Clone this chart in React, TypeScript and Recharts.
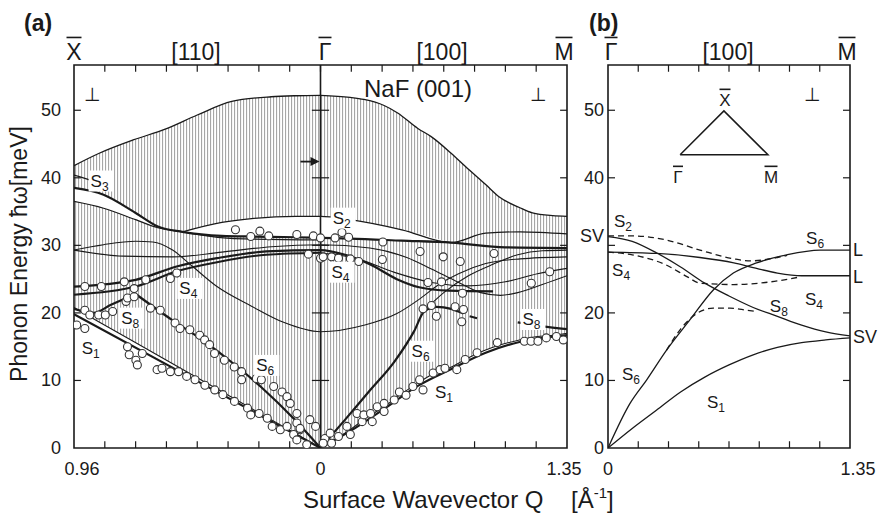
import React from "react"
import {
  Area,
  ComposedChart,
  Line,
  ReferenceArea,
  ReferenceDot,
  ReferenceLine,
  Scatter,
  XAxis,
  YAxis,
} from "recharts"

const FONT = '"Liberation Sans", Arial, Helvetica, sans-serif'
const INK = "#1a1a1a"
const YMAX = 56.7

// reduced wavevector: -1 = X̄ (0.96 Å⁻¹ along [110]), 0 = Γ̄, +1 = M̄ (1.35 Å⁻¹ along [100])
const xTicksA = [-1, -0.875, -0.75, -0.625, -0.5, -0.375, -0.25, -0.125, 0, 0.125, 0.25, 0.375, 0.5, 0.625, 0.75, 0.875, 1]
const xTicksB = [0, 0.125, 0.25, 0.375, 0.5, 0.625, 0.75, 0.875, 1]
const yTicks = [0, 10, 20, 30, 40, 50]
const xLabelsA: Record<string, string> = { "-1": "0.96", "0": "0", "1": "1.35" }
const xLabelsB: Record<string, string> = { "0": "0", "1": "1.35" }
const yLabelsB: Record<string, string> = { "28.2": "L", "31.4": "SV" }
const yTicksB = [0, 10, 20, 28.2, 31.4, 40, 50]

// bulk band [t, low, high]
const bulkLeft = [
  [-1, 20.8, 41.8], [-0.9, 18.7, 43.6], [-0.76, 15.8, 45.6], [-0.63, 13.1, 47.2],
  [-0.5, 10.4, 49.3], [-0.36, 7.5, 51.3], [-0.2, 4.2, 52.0], [-0.1, 2.1, 52.15], [0, 0, 52.2],
]
const bulkRight = [
  [0, 0, 52.2], [0.12, 2.7, 51.9], [0.176, 4.2, 51.6], [0.258, 6.1, 50.7], [0.313, 7.6, 49.6],
  [0.395, 9.6, 47.3], [0.449, 10.8, 46.1], [0.531, 12.0, 43.6], [0.587, 13.1, 41.7],
  [0.67, 14.5, 39.0], [0.724, 15.2, 37.2], [0.807, 16.0, 35.6], [0.86, 16.4, 34.8],
  [0.942, 16.7, 34.4], [1, 17.0, 34.3],
]
// gaps inside the band
const gapNearX = [[-1, 36.5, 38.5], [-0.88, 35.5, 37.5], [-0.75, 33.8, 34.8], [-0.66, 32.6, 32.8], [-0.56, 32.0, 32.0]]
const gapNearG = [
  [-0.56, 32.0, 32.0], [-0.4, 31.4, 33.4], [-0.27, 31.3, 34.0], [-0.1, 31.2, 34.3], [0, 31.1, 34.3],
  [0.12, 31.0, 33.8], [0.33, 30.7, 32.3], [0.53, 30.4, 30.4],
]

// panel (a) dispersion curves [t, E meV]
const c31 = [
  [-1, 38.5], [-0.88, 37.5], [-0.75, 34.8], [-0.66, 32.8], [-0.56, 32.0], [-0.4, 31.4], [-0.27, 31.3],
  [-0.1, 31.2], [0, 31.1], [0.12, 31.0], [0.33, 30.7], [0.53, 30.4], [0.75, 29.7], [1, 29.6],
]
const c31b = [[-1, 36.5], [-0.88, 35.5], [-0.75, 33.8], [-0.66, 32.6], [-0.56, 32.0], [-0.35, 31.0], [0, 30.8]]
const s2a = [
  [-0.56, 32.0], [-0.4, 33.4], [-0.27, 34.0], [-0.1, 34.3], [0, 34.3], [0.12, 33.8], [0.33, 32.3],
  [0.53, 30.4], [0.67, 31.8], [0.81, 32.0], [1, 31.7],
]
const s3a = [[-1, 40.4], [-0.93, 39.6], [-0.85, 38.3]]
const c7 = [
  [-1, 29.3], [-0.88, 30.1], [-0.75, 30.6], [-0.68, 30.5], [-0.6, 29.3], [-0.52, 26.9], [-0.42, 23.9],
  [-0.28, 21.0], [-0.15, 18.6], [0, 17.2], [0.18, 18.2], [0.31, 19.9], [0.4, 22.0], [0.48, 24.2],
  [0.56, 25.8], [0.67, 27.3], [0.81, 28.0], [1, 28.3],
]
const c8 = [
  [-1, 29.3], [-0.8, 28.4], [-0.6, 28.3], [-0.4, 29.0], [-0.2, 29.8], [0, 30.1], [0.2, 29.6],
  [0.35, 28.2], [0.45, 26.5], [0.55, 24.7], [0.65, 23.0], [0.73, 22.6], [0.8, 23.0], [0.9, 24.2], [1, 25.5],
]
const s4a = [
  [-1, 23.9], [-0.75, 24.9], [-0.58, 26.9], [-0.42, 28.1], [-0.22, 29.1], [0, 29.3], [0.1, 28.6],
  [0.2, 27.2], [0.31, 25.0], [0.4, 23.8], [0.52, 23.3], [0.7, 23.2],
]
const s4b = [[-1, 22.7], [-0.75, 23.9], [-0.58, 26.2], [-0.42, 27.5], [-0.22, 28.6], [0, 28.9]]
const c9 = [[0, 28.9], [0.15, 28.0], [0.3, 26.0], [0.45, 24.5], [0.6, 24.0], [0.75, 24.6], [0.88, 25.8], [1, 26.6]]
const s6L = [[-0.75, 22.8], [-0.6, 18.9], [-0.48, 16.0], [-0.35, 12.4], [-0.24, 9.0], [-0.11, 4.4], [0, 0]]
const s8L = [[-1, 20.6], [-0.92, 20.0], [-0.85, 21.2], [-0.75, 22.8]]
const s1L = [[-1, 19.8], [-0.5, 9.9], [0, 0]]
const s1R = [[0, 0], [0.12, 2.5], [0.258, 5.8], [0.395, 9.2], [0.531, 11.7], [0.67, 14.1], [0.807, 15.7], [0.942, 16.5], [1, 16.7]]
const s6R = [[0, 0], [0.1, 4.2], [0.2, 8.5], [0.3, 12.8], [0.38, 17.3], [0.42, 20.2], [0.47, 20.9], [0.53, 20.6], [0.58, 19.9]]
const s6Rdash = [[0.605, 19.5], [0.635, 19.2]]
const s6Rthin = [[0.42, 20.3], [0.5, 23.0], [0.6, 25.5], [0.7, 27.2], [0.8, 28.6], [0.9, 29.2], [1, 29.3]]
const s8R = [[0.8, 18.6], [0.9, 18.0], [1, 17.6]]

// measured points (open circles)
const measured = [
  // S1, [110]
  [-0.989, 18.2], [-0.956, 17.7], [-0.783, 15.0], [-0.776, 13.8], [-0.749, 13.0], [-0.743, 12.3],
  [-0.723, 14.0], [-0.663, 11.6], [-0.643, 11.8], [-0.609, 11.3], [-0.576, 11.3], [-0.543, 10.6],
  [-0.509, 10.1], [-0.469, 9.3], [-0.429, 8.6], [-0.396, 7.9], [-0.349, 6.9], [-0.296, 5.9],
  [-0.283, 4.9], [-0.249, 5.1], [-0.216, 4.4], [-0.196, 3.2], [-0.163, 2.7], [-0.136, 3.2],
  [-0.109, 2.0], [-0.096, 1.2], [-0.083, 2.7], [-0.056, 0.5],
  // S6, [110]
  [-0.789, 21.7], [-0.69, 20.7], [-0.65, 20.4], [-0.59, 18.5], [-0.57, 17.7], [-0.53, 17.5],
  [-0.49, 16.7], [-0.47, 16.0], [-0.45, 15.3], [-0.43, 14.0], [-0.39, 13.0], [-0.35, 12.0],
  [-0.32, 11.3], [-0.32, 10.1], [-0.26, 10.3], [-0.24, 10.1], [-0.19, 9.1], [-0.156, 8.3],
  [-0.136, 7.6], [-0.123, 6.6], [-0.096, 5.1], [-0.096, 3.7], [-0.083, 2.9], [-0.043, 4.2], [-0.02, 3.2],
  // S8, S4, [110]
  [-0.956, 20.4], [-0.936, 19.7], [-0.9, 19.7], [-0.873, 19.7], [-0.843, 20.2], [-0.783, 22.2], [-0.756, 22.4],
  [-0.956, 23.9], [-0.889, 23.9], [-0.796, 24.6], [-0.756, 23.6], [-0.709, 24.9], [-0.609, 25.1], [-0.583, 25.9],
  // upper modes
  [-0.345, 32.3], [-0.283, 31.3], [-0.246, 32.1], [-0.21, 31.4], [-0.096, 31.6], [-0.029, 31.4],
  [0.0, 31.1], [-0.049, 28.7], [0.0, 28.1], [0.059, 31.1], [0.087, 31.9], [0.114, 31.2],
  [0.253, 30.5], [0.404, 29.1], [0.498, 28.3], [0.567, 27.6], [0.704, 28.8], [0.93, 26.1], [0.855, 24.4],
  [0.011, 28.3], [0.045, 28.3], [0.073, 28.1], [0.121, 28.0], [0.155, 27.6], [0.251, 27.9],
  [0.436, 24.5], [0.491, 24.6], [0.576, 22.9],
  // S6, [100]
  [0.416, 20.6], [0.45, 21.1], [0.47, 19.5], [0.546, 20.9], [0.58, 20.5], [0.573, 18.7],
  // S1, [100]
  [0.018, 1.4], [0.039, 2.2], [0.011, 0.7], [0.045, 0.7], [0.073, 1.7], [0.107, 3.2], [0.121, 2.0],
  [0.148, 5.1], [0.169, 3.9], [0.176, 4.9], [0.21, 3.9], [0.203, 5.1], [0.23, 6.1], [0.258, 5.4],
  [0.258, 6.6], [0.299, 7.1], [0.32, 8.3], [0.347, 7.8], [0.375, 9.1], [0.402, 10.1], [0.416, 8.6],
  [0.457, 11.1], [0.485, 11.6], [0.505, 11.8], [0.553, 11.6], [0.587, 13.1], [0.635, 14.1],
  [0.717, 15.6], [0.827, 15.8], [0.854, 15.8], [0.882, 15.8], [0.916, 16.3], [0.957, 16.5], [0.985, 16.0],
]

// panel (b) calculated curves, Γ̄ -> M̄
const bS2S8 = [[0, 31.3], [0.1, 30.6], [0.2, 28.9], [0.3, 26.8], [0.4, 24.4], [0.5, 22.5], [0.6, 20.8], [0.7, 19.5], [0.8, 18.2], [0.9, 17.2], [1, 16.6]]
const bS2dash = [[0, 31.4], [0.1, 31.4], [0.24, 30.8], [0.38, 29.3], [0.52, 28.0], [0.59, 27.7], [0.7, 28.2], [0.74, 28.5]]
const bL = [[0, 29.0], [0.2, 28.8], [0.38, 28.2], [0.52, 27.4], [0.6, 26.7], [0.7, 25.9], [0.8, 25.5], [1, 25.5]]
const bS4dash = [[0, 29.0], [0.1, 28.6], [0.24, 27.1], [0.33, 25.3], [0.38, 24.4], [0.52, 24.2], [0.65, 24.5], [0.79, 25.3]]
const bS6 = [[0, 0], [0.091, 6.6], [0.16, 10.1], [0.242, 14.5], [0.339, 19.0], [0.435, 23.4], [0.518, 25.9], [0.614, 27.4], [0.738, 28.6], [0.876, 29.3], [1, 29.3]]
const bS6dash = [[0.242, 14.5], [0.3, 17.6], [0.366, 19.9], [0.435, 20.7], [0.504, 20.7], [0.573, 20.4], [0.614, 20.2]]
const bS1 = [[0, 0], [0.1, 2.9], [0.2, 5.6], [0.3, 8.3], [0.4, 10.5], [0.5, 12.3], [0.6, 13.8], [0.7, 14.9], [0.8, 15.6], [0.9, 16.0], [1, 16.3]]
const bTriangle = [[0.298, 43.4], [0.479, 49.9], [0.661, 43.4], [0.298, 43.4]]

const modeLabelsA = [
  { n: "3", t: -0.892, e: 39.6 }, { n: "2", t: 0.09, e: 34.1 }, { n: "4", t: -0.532, e: 23.7 },
  { n: "8", t: -0.768, e: 19.3 }, { n: "1", t: -0.928, e: 14.8 }, { n: "6", t: -0.22, e: 12.3 },
  { n: "4", t: 0.085, e: 26.1 }, { n: "6", t: 0.41, e: 14.4 }, { n: "1", t: 0.505, e: 8.3 },
  { n: "8", t: 0.86, e: 19.1 },
]
const modeLabelsB = [
  { n: "2", t: 0.066, e: 33.6 }, { n: "6", t: 0.86, e: 31.1 }, { n: "4", t: 0.058, e: 26.4 },
  { n: "8", t: 0.71, e: 21.0 }, { n: "4", t: 0.855, e: 22.1 }, { n: "6", t: 0.099, e: 11.0 },
  { n: "1", t: 0.45, e: 6.8 },
]
const edgeLabelsB = [{ s: "L", e: 29.3 }, { s: "L", e: 25.3 }, { s: "SV", e: 16.4 }]

const pts = (a: number[][]) => a.map(([t, e]) => ({ t, e }))
const band = (a: number[][]) => a.map(([t, lo, hi]) => ({ t, range: [lo, hi], lo, hi }))

const curve = (key: string, data: number[][], w: number, dash?: string, type: any = "monotone") => (
  <Line
    key={key}
    data={pts(data)}
    dataKey="e"
    type={type}
    stroke={INK}
    strokeWidth={w}
    strokeDasharray={dash}
    dot={false}
    activeDot={false}
    isAnimationActive={false}
  />
)

const tickMarks = (id: string, xs: number[], x0: number, x1: number, dx: number) => {
  const out: React.ReactNode[] = []
  xs.filter((v) => v !== x0 && v !== x1).forEach((v) => {
    out.push(<ReferenceLine key={`${id}b${v}`} segment={[{ x: v, y: 0 }, { x: v, y: 1.0 }]} stroke={INK} strokeWidth={1.2} />)
    out.push(<ReferenceLine key={`${id}t${v}`} segment={[{ x: v, y: YMAX }, { x: v, y: YMAX - 1.0 }]} stroke={INK} strokeWidth={1.2} />)
  })
  yTicks.filter((v) => v > 0).forEach((v) => {
    out.push(<ReferenceLine key={`${id}l${v}`} segment={[{ x: x0, y: v }, { x: x0 + dx, y: v }]} stroke={INK} strokeWidth={1.2} />)
    out.push(<ReferenceLine key={`${id}r${v}`} segment={[{ x: x1, y: v }, { x: x1 - dx, y: v }]} stroke={INK} strokeWidth={1.2} />)
  })
  return out
}

function ModeLabel({ cx, cy, n, bg }: { cx: number; cy: number; n: string; bg?: boolean }) {
  return (
    <g>
      {bg && <rect x={cx - 12} y={cy - 10} width={25} height={21} fill="#fff" />}
      <text x={cx - 10} y={cy + 6} fontSize={17} fontFamily={FONT} fill={INK}>
        S
        <tspan fontSize={12} dy={4}>
          {n}
        </tspan>
      </text>
    </g>
  )
}

function Barred({ x, y, s, size, w }: { x: number; y: number; s: string; size: number; w: number }) {
  return (
    <g>
      <text x={x} y={y} fontSize={size} textAnchor="middle" fontFamily={FONT} fill={INK}>
        {s}
      </text>
      <line x1={x - w / 2} x2={x + w / 2} y1={y - size * 0.98} y2={y - size * 0.98} stroke={INK} strokeWidth={1.6} />
    </g>
  )
}

const circleShape = (p: any) => <circle cx={p.cx} cy={p.cy} r={4} fill="#fff" stroke="#333" strokeWidth={1.1} />

export default function App() {
  const txt = { fontFamily: FONT, fill: INK }
  return (
    <div style={{ position: "absolute", left: 0, top: 0, width: 881, height: 517, background: "#fff" }}>
      <svg width={0} height={0} style={{ position: "absolute" }}>
        <defs>
          <pattern id="vhatch" width="3" height="10" patternUnits="userSpaceOnUse">
            <rect width="3" height="10" fill="#fff" />
            <rect width="1.1" height="10" fill="#a6a6a6" />
          </pattern>
        </defs>
      </svg>

      {/* panel (a) */}
      <div style={{ position: "absolute", left: 0, top: 0 }}>
        <ComposedChart width={600} height={517} margin={{ top: 65, right: 33, bottom: 39, left: 34 }}>
          <XAxis
            dataKey="t"
            type="number"
            domain={[-1, 1]}
            allowDataOverflow
            ticks={[-1, 0, 1]}
            interval={0}
            height={30}
            tickLine={false}
            axisLine={false}
            tick={(p: any) => (
              <text x={p.x + (p.payload.value === -1 ? 8 : p.payload.value === 1 ? -3 : 0)} y={p.y + 19} fontSize={18} textAnchor="middle" {...txt}>
                {xLabelsA[String(p.payload.value)]}
              </text>
            )}
          />
          <YAxis
            type="number"
            domain={[0, YMAX]}
            allowDataOverflow
            ticks={yTicks}
            width={40}
            tickLine={false}
            axisLine={false}
            tick={(p: any) => (
              <text x={p.x - 5} y={p.y + 6} fontSize={18} textAnchor="end" {...txt}>
                {p.payload.value}
              </text>
            )}
          />
          <Area data={band(bulkLeft)} dataKey="range" type="monotone" stroke="none" fill="url(#vhatch)" fillOpacity={1} isAnimationActive={false} activeDot={false} />
          <Area data={band(bulkRight)} dataKey="range" type="monotone" stroke="none" fill="url(#vhatch)" fillOpacity={1} isAnimationActive={false} activeDot={false} />
          <Area data={band(gapNearX)} dataKey="range" type="monotone" stroke="none" fill="#fff" fillOpacity={1} isAnimationActive={false} activeDot={false} />
          <Area data={band(gapNearG)} dataKey="range" type="monotone" stroke="none" fill="#fff" fillOpacity={1} isAnimationActive={false} activeDot={false} />

          {curve("hiL", bulkLeft.map(([t, , hi]) => [t, hi]), 1.3)}
          {curve("hiR", bulkRight.map(([t, , hi]) => [t, hi]), 1.3)}
          {curve("loL", bulkLeft.map(([t, lo]) => [t, lo]), 1.1, undefined, "linear")}
          {curve("loR", bulkRight.map(([t, lo]) => [t, lo]), 1.1)}
          {curve("c31", c31, 2.2)}
          {curve("c31b", c31b, 1.2)}
          {curve("s2a", s2a, 1.2)}
          {curve("s3a", s3a, 1.2)}
          {curve("c7", c7, 1.1)}
          {curve("c8", c8, 1.1)}
          {curve("c9", c9, 1.1)}
          {curve("s4a", s4a, 2.2)}
          {curve("s4b", s4b, 2.0)}
          {curve("s6L", s6L, 2.2)}
          {curve("s8L", s8L, 2.2)}
          {curve("s1L", s1L, 2.2, undefined, "linear")}
          {curve("s1R", s1R, 2.2)}
          {curve("s6R", s6R, 2.2)}
          {curve("s6Rdash", s6Rdash, 2.2, undefined, "linear")}
          {curve("s6Rthin", s6Rthin, 1.1)}
          {curve("s8R", s8R, 2.4)}

          <ReferenceLine x={0} stroke={INK} strokeWidth={1.6} />
          {yTicks.filter((v) => v > 0).map((v) => (
            <ReferenceLine key={`g${v}`} segment={[{ x: -0.035, y: v }, { x: 0.035, y: v }]} stroke={INK} strokeWidth={1.2} />
          ))}
          {tickMarks("a", xTicksA, -1, 1, 0.028)}
          <ReferenceArea x1={-1} x2={1} y1={0} y2={YMAX} fill="none" fillOpacity={0} stroke={INK} strokeWidth={1.6} />

          <Scatter data={pts(measured)} dataKey="e" shape={circleShape} isAnimationActive={false} />

          <ReferenceDot
            x={0}
            y={42.4}
            r={1}
            shape={(p: any) => (
              <g>
                <line x1={p.cx - 20} x2={p.cx - 8} y1={p.cy} y2={p.cy} stroke={INK} strokeWidth={1.8} />
                <polygon points={`${p.cx - 10},${p.cy - 4.5} ${p.cx - 1},${p.cy} ${p.cx - 10},${p.cy + 4.5}`} fill={INK} />
              </g>
            )}
          />
          {modeLabelsA.map((l, i) => (
            <ReferenceDot key={`la${i}`} x={l.t} y={l.e} r={1} shape={(p: any) => <ModeLabel cx={p.cx} cy={p.cy} n={l.n} bg />} />
          ))}
        </ComposedChart>
      </div>

      {/* panel (b) */}
      <div style={{ position: "absolute", left: 560, top: 0 }}>
        <ComposedChart width={321} height={517} margin={{ top: 65, right: 31, bottom: 39, left: 18 }}>
          <XAxis
            dataKey="t"
            type="number"
            domain={[0, 1]}
            allowDataOverflow
            ticks={[0, 1]}
            interval={0}
            height={30}
            tickLine={false}
            axisLine={false}
            tick={(p: any) => (
              <text x={p.x + (p.payload.value === 1 ? 8 : 0)} y={p.y + 19} fontSize={18} textAnchor="middle" {...txt}>
                {xLabelsB[String(p.payload.value)]}
              </text>
            )}
          />
          <YAxis
            type="number"
            domain={[0, YMAX]}
            allowDataOverflow
            ticks={yTicksB}
            width={30}
            tickLine={false}
            axisLine={false}
            tick={(p: any) => (
              <text x={p.x + 4} y={p.y + 6} fontSize={18} textAnchor="end" {...txt}>
                {yLabelsB[String(p.payload.value)] ?? p.payload.value}
              </text>
            )}
          />
          {curve("bS2S8", bS2S8, 1.3)}
          {curve("bS2dash", bS2dash, 1.3, "6 4")}
          {curve("bL", bL, 1.3)}
          {curve("bS4dash", bS4dash, 1.3, "6 4")}
          {curve("bS6", bS6, 1.3)}
          {curve("bS6dash", bS6dash, 1.3, "6 4")}
          {curve("bS1", bS1, 1.3)}
          {curve("bTri", bTriangle, 1.5, undefined, "linear")}

          {tickMarks("b", xTicksB, 0, 1, 0.029)}
          <ReferenceArea x1={0} x2={1} y1={0} y2={YMAX} fill="none" fillOpacity={0} stroke={INK} strokeWidth={1.6} />

          {modeLabelsB.map((l, i) => (
            <ReferenceDot key={`lb${i}`} x={l.t} y={l.e} r={1} shape={(p: any) => <ModeLabel cx={p.cx} cy={p.cy} n={l.n} />} />
          ))}
          {edgeLabelsB.map((l, i) => (
            <ReferenceDot
              key={`eb${i}`}
              x={1}
              y={l.e}
              r={1}
              shape={(p: any) => (
                <text x={p.cx + 3} y={p.cy + 6} fontSize={18} {...txt}>
                  {l.s}
                </text>
              )}
            />
          ))}
        </ComposedChart>
      </div>

      {/* titles and annotations */}
      <svg width={881} height={517} style={{ position: "absolute", left: 0, top: 0, pointerEvents: "none" }}>
        <text x={24} y={31} fontSize={23} fontWeight="bold" {...txt}>(a)</text>
        <text x={589} y={31} fontSize={23} fontWeight="bold" {...txt}>(b)</text>

        <Barred x={74} y={60} s="X" size={23} w={15} />
        <text x={196} y={60} fontSize={23} textAnchor="middle" {...txt}>[110]</text>
        <Barred x={325} y={60} s="Γ" size={23} w={13} />
        <text x={442} y={60} fontSize={23} textAnchor="middle" {...txt}>[100]</text>
        <Barred x={564} y={60} s="M" size={23} w={17} />
        <Barred x={611} y={60} s="Γ" size={23} w={13} />
        <text x={728} y={60} fontSize={23} textAnchor="middle" {...txt}>[100]</text>
        <Barred x={847} y={60} s="M" size={23} w={17} />

        <text x={418} y={97} fontSize={24} textAnchor="middle" {...txt}>NaF (001)</text>
        <text x={92} y={101} fontSize={19} textAnchor="middle" {...txt}>⊥</text>
        <text x={538} y={101} fontSize={19} textAnchor="middle" {...txt}>⊥</text>
        <text x={812} y={101} fontSize={19} textAnchor="middle" {...txt}>⊥</text>

        <Barred x={725} y={106} s="X" size={17} w={11} />
        <Barred x={678} y={183} s="Γ" size={17} w={10} />
        <Barred x={771} y={183} s="M" size={17} w={13} />

        <g transform="translate(27,254) rotate(-90)">
          <text x={0} y={0} fontSize={23} textAnchor="middle" {...txt}>Phonon Energy ħω[meV]</text>
        </g>
        <text x={303} y={508} fontSize={24} {...txt}>Surface Wavevector Q</text>
        <text x={571} y={508} fontSize={24} {...txt}>
          [Å<tspan fontSize={15} dy={-10}>-1</tspan>
          <tspan dy={10}>]</tspan>
        </text>
      </svg>
    </div>
  )
}
